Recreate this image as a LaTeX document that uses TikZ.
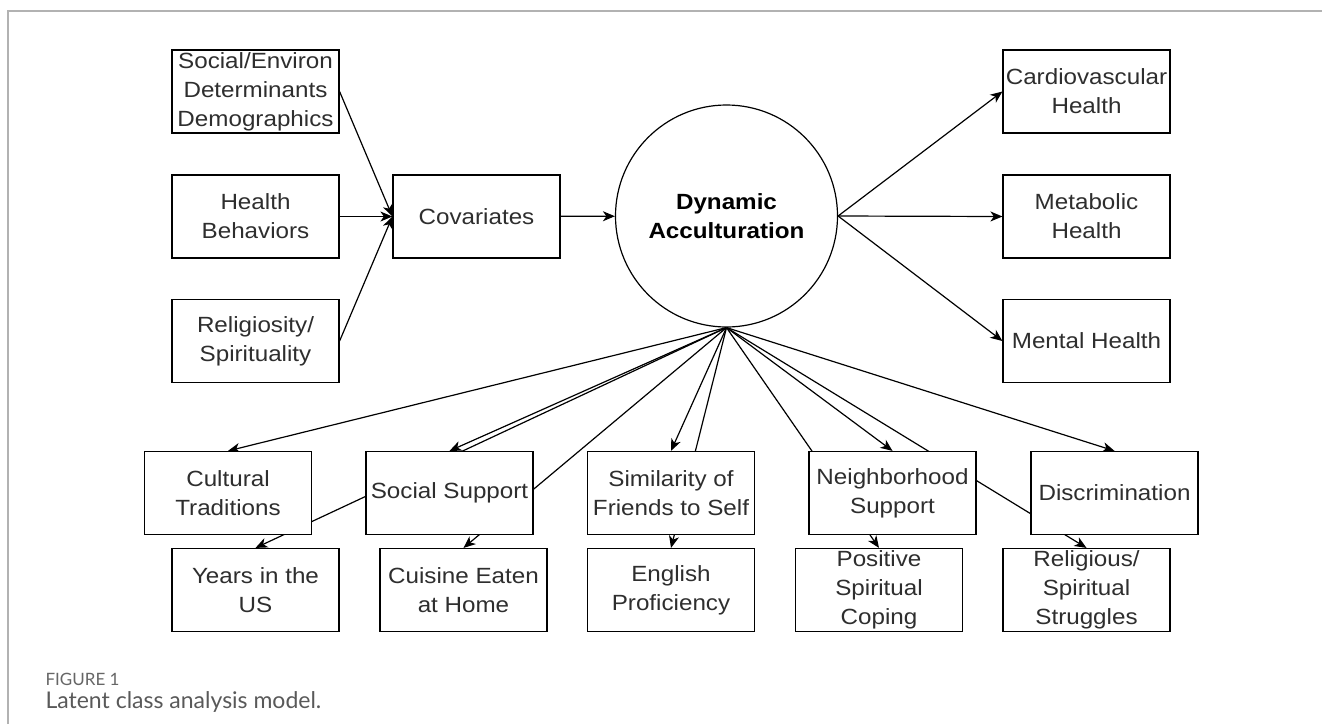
\documentclass[tikz,border=0pt]{standalone}
\usepackage{fontspec}
\setmainfont{Liberation Sans}[FakeStretch=1.1]
\newfontfamily\capfont{Lato}
\usetikzlibrary{arrows.meta}
\usetikzlibrary{backgrounds}

\tikzset{
  var/.style={draw, line width=1.2pt, fill=white, minimum width=167pt, minimum height=83pt,
    inner sep=0pt, align=center, text=black!82, font=\fontsize{22}{29}\selectfont},
  latent/.style={draw, circle, line width=1.2pt, fill=white, minimum size=222pt,
    inner sep=0pt, align=center, font=\fontsize{22}{29}\selectfont\bfseries},
  link/.style={->, line width=1.2pt},
}

\begin{document}
\begin{tikzpicture}[x=1pt, y=-1pt, >={Stealth[length=12pt,width=10pt,inset=3.5pt]}]
\useasboundingbox (0,0) rectangle (1322,724);
\draw[black!30, line width=1.2pt] (8,724) -- (8,11) -- (1322,11);

% covariates
\node[var] (soc) at (255.5,91.5)  {Social/Environ\\Determinants\\Demographics};
\node[var] (hb)  at (255.5,216.5) {Health\\Behaviors};
\node[var] (rel) at (255.5,341)   {Religiosity/\\Spirituality};
\node[var] (cov) at (476.5,216.5) {Covariates};
\node[latent] (dyn) at (726.5,216) {Dynamic\\Acculturation};

% outcomes
\node[var] (cardio) at (1086.5,91.5)  {Cardiovascular\\Health};
\node[var] (meta)   at (1086.5,216.5) {Metabolic\\Health};
\node[var] (mental) at (1086.5,341)   {Mental Health};

% indicators
\node[var] (cult)   at (228,493)    {Cultural\\Traditions};
\node[var] (socsup) at (449.5,493)  {Social Support};
\node[var] (simil)  at (671,493)    {Similarity of\\Friends to Self};
\node[var] (neigh)  at (892.5,493)  {Neighborhood\\Support};
\node[var] (discr)  at (1114.5,493) {Discrimination};
\node[var] (years)     at (255.5,590)  {Years in the\\US};
\node[var] (cuisine)   at (463.5,590)  {Cuisine Eaten\\at Home};
\node[var] (english)   at (671,590)    {English\\Proficiency};
\node[var] (coping)    at (879,590)    {Positive\\Spiritual\\Coping};
\node[var] (struggles) at (1086.5,590) {Religious/\\Spiritual\\Struggles};

\begin{scope}[on background layer]
\foreach \a in {soc,hb,rel}
  \draw[link] (\a.east) -- (cov.west);
\draw[link] (cov) -- (dyn);
\foreach \b in {cardio,meta,mental}
  \draw[link] (dyn.east) -- (\b.west);
\foreach \c in {cult,socsup,simil,neigh,discr,years,cuisine,english,coping,struggles}
  \draw[link] (dyn.south) -- (\c.north);
\end{scope}

% caption
\node[anchor=west, text=black!60, font=\capfont\fontsize{17}{19}\selectfont] (fig) at (42,679) {FIGURE 1};
\node[anchor=west, text=black!65, font=\capfont\fontsize{23}{26}\selectfont] (capt) at (42,702) {Latent class analysis model.};
\end{tikzpicture}
\end{document}
